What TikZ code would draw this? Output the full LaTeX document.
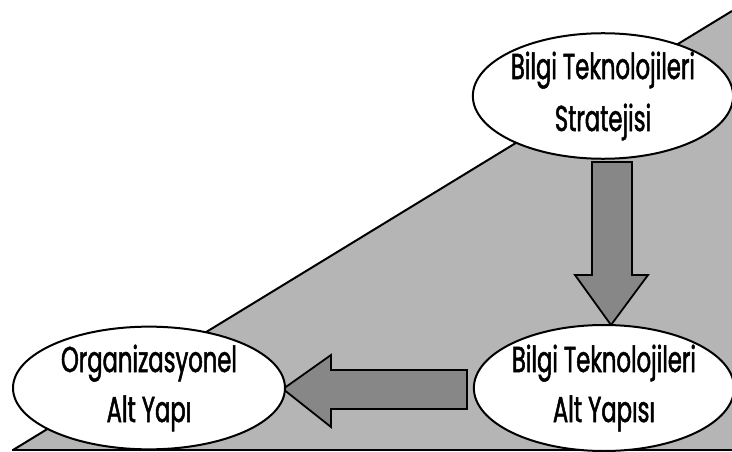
\documentclass[tikz,border=0pt]{standalone}
\usepackage{fontspec}
\setmainfont{Poppins}[FakeStretch=0.63, FakeBold=1.4]
\usetikzlibrary{shapes.geometric}
\definecolor{slope}{gray}{0.71}
\definecolor{flow}{gray}{0.53}
\tikzset{
  bubble/.style={ellipse, draw=black, line width=2pt, fill=white, inner sep=0pt,
                 align=center, font=\fontsize{36}{44}\selectfont},
  blockarrow/.style={draw=black, line width=1.8pt, fill=flow, line join=miter},
}
\begin{document}
\begin{tikzpicture}[x=1pt, y=-1pt]
  \useasboundingbox (0,0) rectangle (732,452);
  % grey slope with its outline
  \fill[slope] (13,450) -- (732,11) -- (732,450) -- cycle;
  \draw[line width=2pt] (13,450) -- (732,11);
  \draw[line width=2.5pt] (12,450) -- (732,450);

  % block arrows
  \draw[blockarrow] (592,162) -- (632,162) -- (632,275) -- (648,275) -- (611,325)
        -- (575,275) -- (592,275) -- cycle;
  \draw[blockarrow] (467,370) -- (467,409) -- (331,409) -- (331,427) -- (283,389)
        -- (331,355) -- (331,370) -- cycle;

  % ellipses
  \node[bubble, minimum width=256pt, minimum height=122pt] (strat) at (603,96)
       {Bilgi Teknolojileri\\[8pt]Stratejisi};
  \node[bubble, minimum width=256pt, minimum height=126pt] (infra) at (604,388)
       {Bilgi Teknolojileri\\[6pt]Alt Yapısı};
  \node[bubble, minimum width=272pt, minimum height=120pt] (org) at (149,388)
       {Organizasyonel\\[6pt]Alt Yapı};
\end{tikzpicture}
\end{document}
